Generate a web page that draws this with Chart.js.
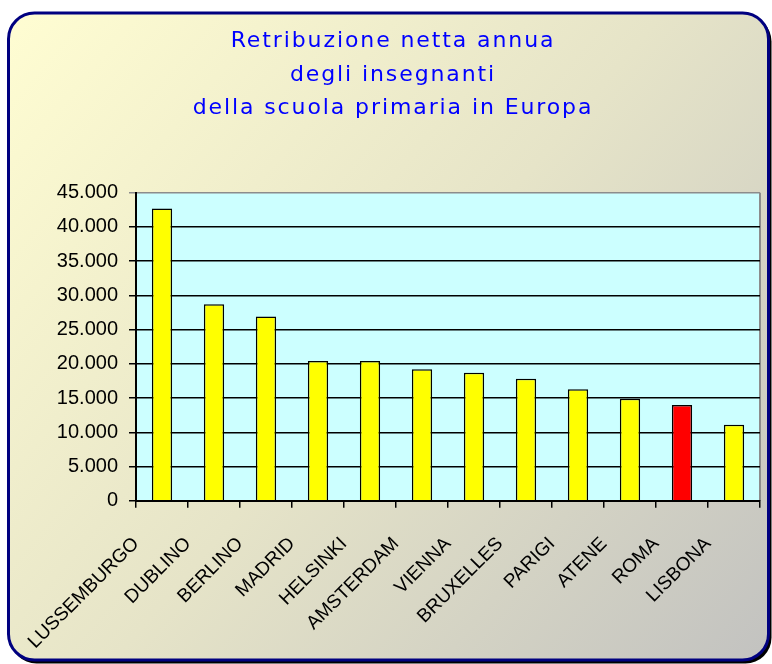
<!DOCTYPE html>
<html>
<head>
<meta charset="utf-8">
<script src="https://cdn.jsdelivr.net/npm/chart.js@4"></script>
<style>
  html, body { margin: 0; padding: 0; background: #ffffff; }
  #c { display: block; }
</style>
</head>
<body>
<canvas id="c" width="772" height="664"></canvas>
<script>
// ---- data ----
const titleLines = ['Retribuzione netta annua', 'degli insegnanti', 'della scuola primaria in Europa'];
const categories = ['LUSSEMBURGO', 'DUBLINO', 'BERLINO', 'MADRID', 'HELSINKI', 'AMSTERDAM', 'VIENNA', 'BRUXELLES', 'PARIGI', 'ATENE', 'ROMA', 'LISBONA'];
const salaries = [42700, 28700, 26900, 20400, 20400, 19200, 18700, 17800, 16300, 14900, 14000, 11100];
const highlighted = 'ROMA';
const yMin = 0;
const yMax = 45000;
const yStep = 5000;

function fmtThousands(v) {
  return String(v).replace(/\B(?=(\d{3})+(?!\d))/g, '.');
}

function roundRect(ctx, x, y, w, h, r) {
  ctx.beginPath();
  ctx.moveTo(x + r, y);
  ctx.lineTo(x + w - r, y);
  ctx.arcTo(x + w, y, x + w, y + r, r);
  ctx.lineTo(x + w, y + h - r);
  ctx.arcTo(x + w, y + h, x + w - r, y + h, r);
  ctx.lineTo(x + r, y + h);
  ctx.arcTo(x, y + h, x, y + h - r, r);
  ctx.lineTo(x, y + r);
  ctx.arcTo(x, y, x + r, y, r);
  ctx.closePath();
}

const framePlugin = {
  id: 'frame',
  beforeDraw(chart) {
    const ctx = chart.ctx;
    const ca = chart.chartArea;
    ctx.save();
    // shadow
    roundRect(ctx, 10.5, 15.5, 761, 648, 26);
    ctx.fillStyle = '#000000';
    ctx.fill();
    // frame
    const g = ctx.createLinearGradient(8, 12, 770, 660);
    g.addColorStop(0, '#FFFDD2');
    g.addColorStop(0.5, '#E6E4C8');
    g.addColorStop(1, '#C2C2C0');
    roundRect(ctx, 8.5, 13, 760, 647, 26);
    ctx.fillStyle = g;
    ctx.fill();
    ctx.lineWidth = 3;
    ctx.strokeStyle = '#000080';
    ctx.stroke();
    // plot area
    ctx.fillStyle = '#CCFFFF';
    ctx.fillRect(ca.left, ca.top, ca.right - ca.left, ca.bottom - ca.top);
    ctx.strokeStyle = '#8C8C8C';
    ctx.lineWidth = 2;
    ctx.beginPath();
    ctx.moveTo(ca.right, ca.top);
    ctx.lineTo(ca.right, ca.bottom);
    ctx.stroke();
    // title
    ctx.fillStyle = '#0000FF';
    ctx.font = '22px "DejaVu Sans", Verdana, sans-serif';
    ctx.textAlign = 'center';
    ctx.textBaseline = 'alphabetic';
    if ('letterSpacing' in ctx) ctx.letterSpacing = '1.9px';
    const baselines = [47, 80.5, 114];
    titleLines.forEach((t, i) => ctx.fillText(t, 393, baselines[i]));
    ctx.restore();
  }
};

new Chart(document.getElementById('c'), {
  type: 'bar',
  data: {
    labels: categories,
    datasets: [{
      data: salaries,
      backgroundColor: categories.map(c => c === highlighted ? '#FF0000' : '#FFFF00'),
      borderColor: '#000000',
      borderWidth: 1.5,
      borderSkipped: 'bottom',
      barPercentage: 0.39,
      categoryPercentage: 1.0
    }]
  },
  options: {
    responsive: false,
    animation: false,
    layout: { padding: { top: 192.7, right: 12, bottom: 0, left: 0 } },
    plugins: {
      legend: { display: false },
      title: { display: false },
      tooltip: { enabled: false }
    },
    scales: {
      x: {
        afterFit(scale) {
          scale.height = 664 - 500.7;
          scale.paddingLeft = 0;
          scale.paddingRight = 0;
        },
        grid: {
          offset: true,
          drawOnChartArea: false,
          drawTicks: true,
          tickLength: 7,
          color: '#000000',
          lineWidth: 1.5
        },
        border: { display: true, color: '#000000', width: 2 },
        ticks: {
          autoSkip: false,
          minRotation: 45,
          maxRotation: 45,
          labelOffset: -26,
          padding: 25,
          color: '#000000',
          font: { family: '"Liberation Sans", Arial, sans-serif', size: 19 }
        }
      },
      y: {
        min: yMin,
        max: yMax,
        afterFit(scale) {
          scale.width = 136;
          scale.paddingTop = 0;
          scale.paddingBottom = 0;
        },
        grid: {
          drawTicks: true,
          tickLength: 7,
          lineWidth: 1.5,
          color: ctx => (ctx.tick && ctx.tick.value === yMax) ? '#8C8C8C' : '#000000'
        },
        border: { display: true, color: '#000000', width: 2 },
        ticks: {
          stepSize: yStep,
          padding: 11,
          color: '#000000',
          font: { family: '"Liberation Sans", Arial, sans-serif', size: 20 },
          callback: v => fmtThousands(v)
        }
      }
    }
  },
  plugins: [framePlugin]
});
</script>
</body>
</html>
